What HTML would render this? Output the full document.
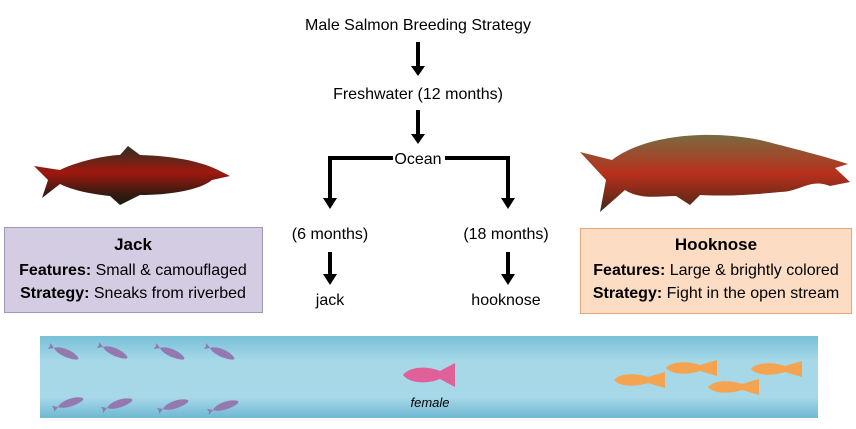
<!DOCTYPE html>
<html><head><meta charset="utf-8"><style>
body{margin:0;background:#fff;width:856px;height:429px;overflow:hidden}
svg{display:block;font-family:"Liberation Sans",sans-serif}
</style></head><body>
<svg width="856" height="429" viewBox="0 0 856 429">
<defs>
<linearGradient id="riv" x1="0" y1="0" x2="0" y2="1">
<stop offset="0" stop-color="#78bfd8"/><stop offset="0.3" stop-color="#a6d8e8"/><stop offset="0.75" stop-color="#a6d8e8"/><stop offset="1" stop-color="#6fb8d3"/></linearGradient>
<linearGradient id="jk" x1="0" y1="0" x2="0" y2="1"><stop offset="0" stop-color="#2c3020"/><stop offset="0.45" stop-color="#a01810"/><stop offset="0.8" stop-color="#3a1a10"/><stop offset="1" stop-color="#1a1a14"/></linearGradient>
<linearGradient id="hk" x1="0" y1="0" x2="0" y2="1"><stop offset="0" stop-color="#7a6a40"/><stop offset="0.5" stop-color="#b8301c"/><stop offset="0.85" stop-color="#6a2a18"/><stop offset="1" stop-color="#3a2a20"/></linearGradient>
<g id="pf"><path d="M0,0 C6,-6 20,-6 28,-1 C30,0 30,2 28,3 C20,6 6,6 0,0 Z M0,0 L-6,-4 L-5,0 L-6,4 Z"/></g>
</defs>
<g font-size="16" text-anchor="middle" fill="#000">
<text x="418" y="30">Male Salmon Breeding Strategy</text>
<text x="418" y="99">Freshwater (12 months)</text>
<text x="418" y="164">Ocean</text>
<text x="330" y="239">(6 months)</text>
<text x="506" y="239">(18 months)</text>
<text x="330" y="305">jack</text>
<text x="506" y="305">hooknose</text>
</g>
<g stroke="#000" stroke-width="4" fill="none">
<line x1="418" y1="42" x2="418" y2="68"/><path d="M411,66 L418,76 L425,66Z" fill="#000" stroke="none"/>
<line x1="418" y1="110" x2="418" y2="136"/><path d="M411,134 L418,144 L425,134Z" fill="#000" stroke="none"/>
<polyline points="393,158 330,158 330,200"/><path d="M323,198 L330,209 L337,198Z" fill="#000" stroke="none"/>
<polyline points="445,158 508,158 508,200"/><path d="M501,198 L508,209 L515,198Z" fill="#000" stroke="none"/>
<line x1="330" y1="252" x2="330" y2="276"/><path d="M323,274 L330,285 L337,274Z" fill="#000" stroke="none"/>
<line x1="508" y1="252" x2="508" y2="276"/><path d="M501,274 L508,285 L515,274Z" fill="#000" stroke="none"/>
</g>
<path d="M34,166 L60,170 C80,160 110,155 120,155 L128,146 L140,155 C170,156 200,160 222,172 L230,176 L212,180 C200,190 170,195 140,195 L120,205 L110,196 C90,194 72,190 60,184 L42,198 L48,180 Z" fill="url(#jk)"/>
<path d="M580,152 L612,160 C640,138 700,128 760,140 C800,150 830,158 848,164 L835,168 L850,182 L830,186 C810,178 800,192 780,192 C740,196 720,196 700,195 L690,205 L676,196 C660,196 640,200 625,190 L600,212 L606,180 Z" fill="url(#hk)"/>
<rect x="4.5" y="227.5" width="258" height="85" fill="#d4cce2" stroke="#a198b6"/>
<g font-size="16" text-anchor="middle" fill="#000">
<text x="133" y="250" font-weight="bold" font-size="17">Jack</text>
<text x="133" y="275"><tspan font-weight="bold">Features:</tspan> Small &amp; camouflaged</text>
<text x="133" y="298"><tspan font-weight="bold">Strategy:</tspan>  Sneaks from riverbed</text>
</g>
<rect x="580.5" y="228.5" width="271" height="85" fill="#fcdcc2" stroke="#e2a878"/>
<g font-size="16" text-anchor="middle" fill="#000">
<text x="716" y="250" font-weight="bold" font-size="17">Hooknose</text>
<text x="716" y="275"><tspan font-weight="bold">Features:</tspan> Large &amp; brightly colored</text>
<text x="716" y="298"><tspan font-weight="bold">Strategy:</tspan>  Fight in the open stream</text>
</g>
<rect x="40" y="336" width="778" height="82" fill="url(#riv)"/>
<g fill="#9478b0">
<use href="#pf" transform="translate(54,348) rotate(22) scale(0.9,0.8)"/>
<use href="#pf" transform="translate(103,347) rotate(22) scale(0.9,0.8)"/>
<use href="#pf" transform="translate(160,348) rotate(22) scale(0.9,0.8)"/>
<use href="#pf" transform="translate(210,348) rotate(22) scale(0.9,0.8)"/>
<use href="#pf" transform="translate(58,407) rotate(-20) scale(0.9,0.8)"/>
<use href="#pf" transform="translate(107,408) rotate(-20) scale(0.9,0.8)"/>
<use href="#pf" transform="translate(163,409) rotate(-20) scale(0.9,0.8)"/>
<use href="#pf" transform="translate(213,410) rotate(-20) scale(0.9,0.8)"/>
</g>
<path d="M403,375 C410,366 428,366 440,371 L455,363 L455,387 L440,379 C428,384 410,384 403,375Z" fill="#e0609a"/>
<text x="430" y="407" font-size="13" font-style="italic" text-anchor="middle">female</text>
<g fill="#f4a450">
<path d="M614,380 C620,373 636,373 648,377 L665,372 L665,388 L648,383 C636,387 620,387 614,380Z"/>
<path d="M666,368 C672,361 688,361 700,365 L717,360 L717,376 L700,371 C688,375 672,375 666,368Z"/>
<path d="M708,387 C714,380 730,380 742,384 L759,379 L759,395 L742,390 C730,394 714,394 708,387Z"/>
<path d="M751,369 C757,362 773,362 785,366 L802,361 L802,377 L785,372 C773,376 757,376 751,369Z"/>
</g>
</svg>
</body></html>
